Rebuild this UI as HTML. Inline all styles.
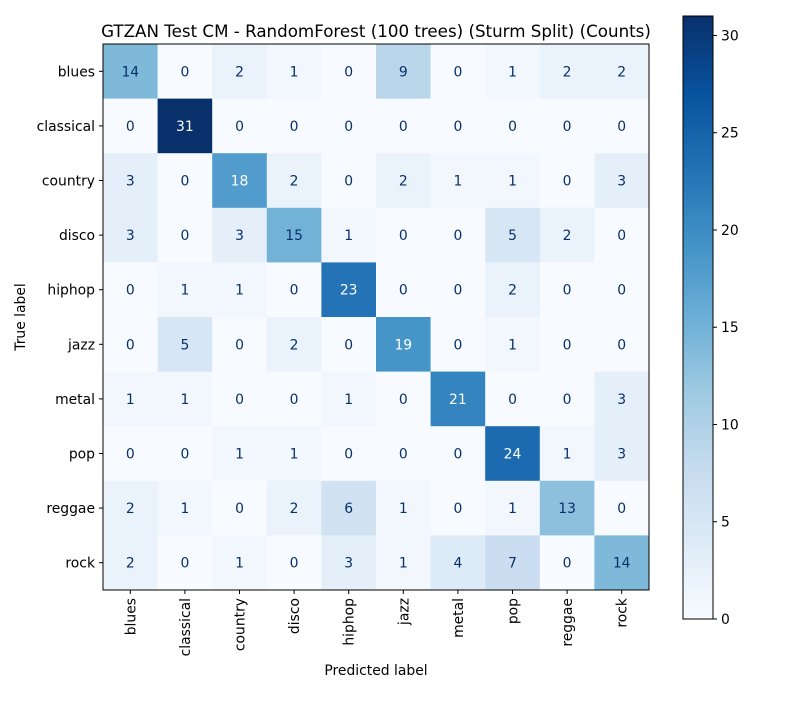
<!DOCTYPE html>
<html><head><meta charset="utf-8"><style>
body{margin:0;background:#fff;font-family:"Liberation Sans","DejaVu Sans",sans-serif;}
svg text{font-family:"DejaVu Sans","Liberation Sans",sans-serif;}
</style></head><body>
<svg id="c" width="800" height="700" xmlns="http://www.w3.org/2000/svg"></svg>
<script>
const labels=["blues","classical","country","disco","hiphop","jazz","metal","pop","reggae","rock"];
const matrix=[
[14,0,2,1,0,9,0,1,2,2],
[0,31,0,0,0,0,0,0,0,0],
[3,0,18,2,0,2,1,1,0,3],
[3,0,3,15,1,0,0,5,2,0],
[0,1,1,0,23,0,0,2,0,0],
[0,5,0,2,0,19,0,1,0,0],
[1,1,0,0,1,0,21,0,0,3],
[0,0,1,1,0,0,0,24,1,3],
[2,1,0,2,6,1,0,1,13,0],
[2,0,1,0,3,1,4,7,0,14]];
const cbTicks=[0,5,10,15,20,25,30];
const stops=["#f7fbff","#deebf7","#c6dbef","#9ecae1","#6baed6","#4292c6","#2171b5","#08519c","#08306b"];
function hx(h){return [1,3,5].map(i=>parseInt(h.substr(i,2),16));}
function cmap(t){t=Math.max(0,Math.min(1,t));const p=t*8,i=Math.min(7,Math.floor(p)),f=p-i;const a=hx(stops[i]),b=hx(stops[i+1]);return "rgb("+a.map((v,k)=>Math.round(v+(b[k]-v)*f)).join(",")+")";}
const svg=document.getElementById('c');const NS="http://www.w3.org/2000/svg";
function el(t,a,txt){const e=document.createElementNS(NS,t);for(const k in a)e.setAttribute(k,a[k]);if(txt!==undefined)e.textContent=txt;svg.appendChild(e);return e;}
const X0=103,Y0=44,S=546,n=labels.length,cw=S/n,FS=13.9;
let vmax=Math.max(...matrix.flat()),vmin=Math.min(...matrix.flat());
const th=(vmax+vmin)/2;
const xs=j=>X0+j*cw, ys=i=>Y0+i*cw;
matrix.forEach((row,i)=>row.forEach((v,j)=>{
 const r=el('rect',{x:xs(j),y:ys(i),width:cw+0.5,height:cw+0.5,fill:cmap((v-vmin)/(vmax-vmin))});
 
 
 const t=el('text',{x:xs(j)+cw/2,y:ys(i)+cw/2+5,'text-anchor':'middle','font-size':FS,fill:v>th?'#fff':'#08306b'},v);
 
 
}));
const fr=el('rect',{x:X0,y:Y0,width:S,height:S,fill:'none',stroke:'#000','stroke-width':1});

labels.forEach((l,i)=>{
 const cy=ys(i)+cw/2;
 el('line',{x1:X0-4,x2:X0,y1:cy,y2:cy,stroke:'#000'});
 const t=el('text',{x:X0-8,y:cy+5,'text-anchor':'end','font-size':FS},l);
 
 const cx=xs(i)+cw/2;
 el('line',{x1:cx,x2:cx,y1:Y0+S,y2:Y0+S+4,stroke:'#000'});
 const u=el('text',{x:cx+5,y:Y0+S+8,'text-anchor':'end','font-size':FS,transform:`rotate(-90 ${cx+5} ${Y0+S+8})`},l);
 
});
let t=el('text',{x:376,y:37,'text-anchor':'middle','font-size':16.7},'GTZAN Test CM - RandomForest (100 trees) (Sturm Split) (Counts)');

t=el('text',{x:376,y:675,'text-anchor':'middle','font-size':FS},'Predicted label');

t=el('text',{x:25,y:317,'text-anchor':'middle','font-size':FS,transform:'rotate(-90 25 317)'},'True label');

const CX=683,CW=30,CT=16,CB=619;
const defs=el('defs',{});const g=document.createElementNS(NS,'linearGradient');
g.setAttribute('id','gb');g.setAttribute('x1','0');g.setAttribute('y1','1');g.setAttribute('x2','0');g.setAttribute('y2','0');
stops.forEach((s,i)=>{const st=document.createElementNS(NS,'stop');st.setAttribute('offset',i/8);st.setAttribute('stop-color',s);g.appendChild(st);});
defs.appendChild(g);
const cb=el('rect',{x:CX,y:CT,width:CW,height:CB-CT,fill:'url(#gb)',stroke:'#000','stroke-width':1});

const cyv=v=>CB-(v-vmin)/(vmax-vmin)*(CB-CT);
cbTicks.forEach(v=>{const y=cyv(v);
 el('line',{x1:CX+CW,x2:CX+CW+4,y1:y,y2:y,stroke:'#000'});
 const tt=el('text',{x:CX+CW+8,y:y+5,'font-size':FS},v);
 
});
</script>
</body></html>
